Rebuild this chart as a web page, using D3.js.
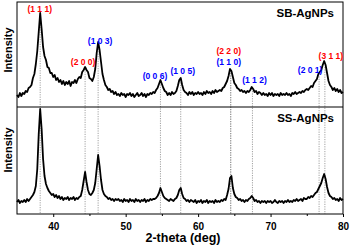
<!DOCTYPE html>
<html lang="en">
<head>
<meta charset="UTF-8">
<title>XRD SB-AgNPs / SS-AgNPs</title>
<script src="https://cdn.jsdelivr.net/npm/d3@7"></script>
<style>
  html, body { margin: 0; padding: 0; background: #fff; }
  svg { display: block; font-family: "Liberation Sans", Arial, sans-serif; }
</style>
</head>
<body>
<div id="chart"></div>
<script>
// scans: one reading every 0.2 deg from 35 to 80 (a.u.)
const thetaStart = 35, thetaStep = 0.2;
const sbIntensity = [
  12, 10, 14, 11, 14,  13, 16, 15, 19, 20,  22, 29, 33, 43, 56,  75, 94, 78, 60, 51,
  47, 40, 39, 34, 34,  30, 32, 27, 29, 25,  27, 23, 26, 22, 25,  23, 26, 21, 25, 24,
  27, 24, 28, 30, 29,  35, 37, 40, 37, 35,  29, 28, 26, 30, 38,  54, 65, 57, 45, 33,
  27, 22, 20, 17, 18,  15, 16, 13, 15, 12,  13, 11, 14, 12, 13,  10, 13, 12, 14, 11,
  13, 10, 12, 14, 11,  12, 14, 11, 13, 10,  13, 12, 14, 13, 15,  14, 17, 19, 23, 27,
  23, 19, 16, 15, 12,  14, 12, 15, 13, 14,  16, 21, 27, 29, 22,  17, 15, 14, 12, 15,
  13, 15, 12, 14, 13,  15, 13, 14, 12, 15,  13, 16, 14, 15, 13,  16, 14, 17, 15, 16,
  17, 16, 19, 20, 23,  26, 31, 38, 36, 30,  24, 22, 19, 18, 16,  17, 15, 16, 14, 16,
  15, 17, 20, 18, 15,  16, 13, 15, 14, 12,  14, 12, 13, 11, 14,  12, 14, 11, 13, 12,
  13, 11, 14, 12, 13,  12, 14, 12, 13, 11,  14, 13, 15, 13, 14,  15, 14, 16, 15, 17,
  18, 17, 19, 21, 20,  24, 26, 28, 33, 35,  37, 42, 46, 42, 34,  26, 22, 20, 17, 19,
  16, 18, 15, 17, 14,  15
];
const ssIntensity = [
  12, 14, 11, 13, 12,  14, 12, 15, 13, 15,  17, 19, 22, 28, 45,  80, 105, 85, 55, 38,
  30, 26, 23, 21, 19,  20, 17, 19, 16, 18,  15, 17, 14, 16, 15,  17, 14, 16, 15, 17,
  14, 16, 15, 17, 18,  24, 33, 42, 32, 24,  20, 19, 21, 24, 31,  45, 59, 48, 34, 24,
  20, 18, 17, 15, 16,  14, 15, 13, 15, 14,  15, 13, 14, 12, 15,  13, 14, 12, 15, 13,
  14, 12, 15, 13, 14,  12, 14, 13, 15, 12,  14, 13, 15, 14, 15,  15, 16, 18, 21, 26,
  22, 18, 16, 15, 14,  13, 15, 14, 13, 15,  16, 19, 24, 26, 20,  16, 15, 13, 14, 12,
  14, 13, 12, 14, 11,  13, 12, 14, 11, 13,  12, 14, 11, 13, 12,  13, 11, 14, 12, 13,
  12, 14, 13, 15, 14,  19, 25, 36, 38, 26,  20, 17, 16, 14, 15,  13, 14, 12, 14, 13,
  15, 16, 18, 16, 13,  14, 12, 13, 11, 13,  12, 13, 11, 13, 12,  13, 11, 12, 14, 12,
  11, 13, 12, 13, 11,  13, 12, 14, 12, 13,  12, 14, 13, 15, 13,  14, 15, 13, 16, 15,
  15, 17, 16, 18, 17,  19, 21, 22, 25, 28,  31, 36, 40, 35, 27,  21, 18, 17, 15, 16,
  14, 15, 13, 16, 14,  15
];
const samples = ["SB-AgNPs", "SS-AgNPs"];

// reflections: Miller indices, 2-theta and phase (Ag = red, other = blue)
const peakHkl = ["(1 1 1)", "(2 0 0)", "(1 0 3)", "(0 0 6)", "(1 0 5)", "(2 2 0)", "(1 1 0)", "(1 1 2)", "(2 0 1)", "(3 1 1)"];
const peakTheta = [38.2, 44.4, 46.2, 54.8, 57.6, 64.5, 64.5, 67.5, 76.7, 77.5];
const peakPhase = ["Ag", "Ag", "other", "other", "other", "Ag", "other", "other", "other", "Ag"];

const xTicks = [40, 50, 60, 70, 80];
const xMinorTicks = [45, 55, 65, 75];

const W = 350, H = 247;
const mLeft = 17, mRight = 343, mTop = 2, mMid = 107, mBottom = 214;

const svg = d3.select("#chart").append("svg")
    .attr("width", W)
    .attr("height", H);

const x = d3.scaleLinear().domain([35, 80]).range([mLeft, mRight]);
const ySB = d3.scaleLinear().domain([0, 105]).range([mMid, mTop]);
const ySS = d3.scaleLinear().domain([0, 107]).range([mBottom, mMid]);

const thetaAt = i => thetaStart + i * thetaStep;

// dotted guides from the SB peak down to the axis
const guides = svg.append("g");
peakTheta.forEach(t => {
    const i = Math.round((t - thetaStart) / thetaStep);
    guides.append("line")
        .attr("x1", x(t)).attr("x2", x(t))
        .attr("y1", ySB(sbIntensity[i]) + 2)
        .attr("y2", mBottom)
        .attr("stroke", "#8a8a8a")
        .attr("stroke-width", 0.8)
        .attr("stroke-dasharray", "1.2,1.2");
});

// curves
const lineSB = d3.line().x((d, i) => x(thetaAt(i))).y(d => ySB(d));
const lineSS = d3.line().x((d, i) => x(thetaAt(i))).y(d => ySS(d));
svg.append("path").attr("d", lineSB(sbIntensity))
    .attr("fill", "none").attr("stroke", "#000").attr("stroke-width", 1.8)
    .attr("stroke-linejoin", "round");
svg.append("path").attr("d", lineSS(ssIntensity))
    .attr("fill", "none").attr("stroke", "#000").attr("stroke-width", 1.8)
    .attr("stroke-linejoin", "round");

// frame and panel divider
svg.append("rect")
    .attr("x", mLeft).attr("y", mTop)
    .attr("width", mRight - mLeft).attr("height", mBottom - mTop)
    .attr("fill", "none").attr("stroke", "#000").attr("stroke-width", 1);
svg.append("line")
    .attr("x1", mLeft).attr("x2", mRight)
    .attr("y1", mMid).attr("y2", mMid)
    .attr("stroke", "#000").attr("stroke-width", 1);

// x axis
const xAxis = svg.append("g")
    .attr("transform", "translate(0," + mBottom + ")")
    .call(d3.axisBottom(x).tickValues(xTicks).tickSize(3).tickPadding(6).tickFormat(d3.format("d")));
xAxis.select(".domain").remove();
xAxis.selectAll("text")
    .attr("font-size", 10).attr("font-weight", "bold").attr("font-family", "Liberation Sans, Arial, sans-serif");
svg.append("g")
    .attr("transform", "translate(0," + mBottom + ")")
    .call(d3.axisBottom(x).tickValues(xMinorTicks).tickSize(2).tickFormat(""))
    .select(".domain").remove();

svg.append("text")
    .attr("x", 183).attr("y", 242)
    .attr("text-anchor", "middle")
    .attr("font-size", 12.5).attr("font-weight", "bold")
    .text("2-theta (deg)");

// y titles
[50, 150].forEach(cy => {
    svg.append("text")
        .attr("transform", "translate(12," + cy + ") rotate(-90)")
        .attr("text-anchor", "middle")
        .attr("font-size", 11).attr("font-weight", "bold")
        .text("Intensity");
});

// sample names
svg.append("text").attr("x", 334).attr("y", 17)
    .attr("text-anchor", "end").attr("font-size", 11.5).attr("font-weight", "bold")
    .text(samples[0]);
svg.append("text").attr("x", 334).attr("y", 122)
    .attr("text-anchor", "end").attr("font-size", 11.5).attr("font-weight", "bold")
    .text(samples[1]);

// hkl labels: horizontal shift from the guide and vertical centre (px)
const labelLayout = [[-0.5, 9], [-2, 62], [2, 41], [-5.5, 76], [2, 71], [-2, 51], [-2, 62], [2, 80], [-9, 70], [6, 56]];
svg.append("g").selectAll("text")
    .data(peakHkl)
    .join("text")
    .attr("x", (d, i) => x(peakTheta[i]) + labelLayout[i][0])
    .attr("y", (d, i) => labelLayout[i][1] + 3)
    .attr("text-anchor", "middle")
    .attr("font-size", 8.5).attr("font-weight", "bold")
    .attr("fill", (d, i) => peakPhase[i] === "Ag" ? "#ff0000" : "#0000ff")
    .text(d => d);
</script>
</body>
</html>
